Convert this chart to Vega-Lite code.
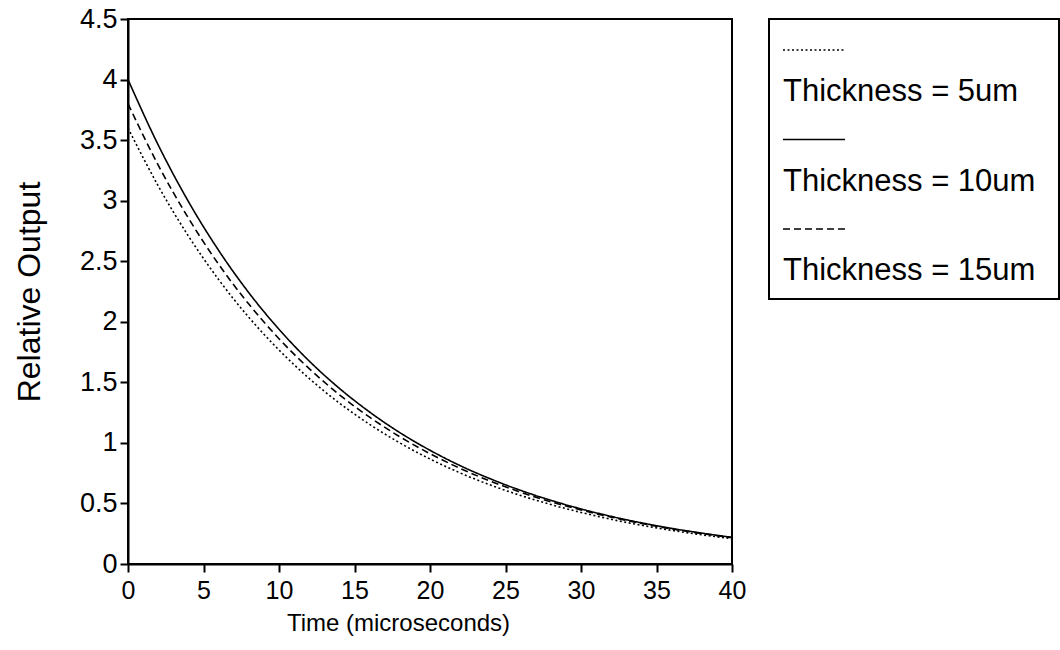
{
  "$schema": "https://vega.github.io/schema/vega-lite/v6.json",
  "padding": {"left": 12, "top": 4, "right": 0, "bottom": 0},
  "background": "white",
  "bounds": "flush",
  "spacing": 37,
  "config": {
    "font": "Liberation Sans",
    "view": {"stroke": "black", "strokeWidth": 2},
    "axis": {
      "grid": false,
      "domainColor": "black",
      "domainWidth": 2,
      "tickColor": "black",
      "tickWidth": 2,
      "tickSize": 8,
      "labelColor": "black",
      "titleColor": "black",
      "labelFontWeight": "normal",
      "titleFontWeight": "normal"
    }
  },
  "datasets": {
    "curves": [
      {"thickness": "5um", "time": 0, "output": 3.600},
      {"thickness": "5um", "time": 2, "output": 3.122},
      {"thickness": "5um", "time": 4, "output": 2.708},
      {"thickness": "5um", "time": 6, "output": 2.349},
      {"thickness": "5um", "time": 8, "output": 2.037},
      {"thickness": "5um", "time": 10, "output": 1.767},
      {"thickness": "5um", "time": 12, "output": 1.532},
      {"thickness": "5um", "time": 14, "output": 1.329},
      {"thickness": "5um", "time": 16, "output": 1.153},
      {"thickness": "5um", "time": 18, "output": 1.000},
      {"thickness": "5um", "time": 20, "output": 0.867},
      {"thickness": "5um", "time": 22, "output": 0.752},
      {"thickness": "5um", "time": 24, "output": 0.652},
      {"thickness": "5um", "time": 26, "output": 0.566},
      {"thickness": "5um", "time": 28, "output": 0.491},
      {"thickness": "5um", "time": 30, "output": 0.426},
      {"thickness": "5um", "time": 32, "output": 0.369},
      {"thickness": "5um", "time": 34, "output": 0.320},
      {"thickness": "5um", "time": 36, "output": 0.278},
      {"thickness": "5um", "time": 38, "output": 0.241},
      {"thickness": "5um", "time": 40, "output": 0.209},
      {"thickness": "10um", "time": 0, "output": 4.000},
      {"thickness": "10um", "time": 2, "output": 3.460},
      {"thickness": "10um", "time": 4, "output": 2.993},
      {"thickness": "10um", "time": 6, "output": 2.590},
      {"thickness": "10um", "time": 8, "output": 2.240},
      {"thickness": "10um", "time": 10, "output": 1.938},
      {"thickness": "10um", "time": 12, "output": 1.676},
      {"thickness": "10um", "time": 14, "output": 1.450},
      {"thickness": "10um", "time": 16, "output": 1.255},
      {"thickness": "10um", "time": 18, "output": 1.085},
      {"thickness": "10um", "time": 20, "output": 0.939},
      {"thickness": "10um", "time": 22, "output": 0.812},
      {"thickness": "10um", "time": 24, "output": 0.703},
      {"thickness": "10um", "time": 26, "output": 0.608},
      {"thickness": "10um", "time": 28, "output": 0.526},
      {"thickness": "10um", "time": 30, "output": 0.455},
      {"thickness": "10um", "time": 32, "output": 0.393},
      {"thickness": "10um", "time": 34, "output": 0.340},
      {"thickness": "10um", "time": 36, "output": 0.294},
      {"thickness": "10um", "time": 38, "output": 0.255},
      {"thickness": "10um", "time": 40, "output": 0.220},
      {"thickness": "15um", "time": 0, "output": 3.800},
      {"thickness": "15um", "time": 2, "output": 3.294},
      {"thickness": "15um", "time": 4, "output": 2.856},
      {"thickness": "15um", "time": 6, "output": 2.475},
      {"thickness": "15um", "time": 8, "output": 2.146},
      {"thickness": "15um", "time": 10, "output": 1.860},
      {"thickness": "15um", "time": 12, "output": 1.613},
      {"thickness": "15um", "time": 14, "output": 1.398},
      {"thickness": "15um", "time": 16, "output": 1.212},
      {"thickness": "15um", "time": 18, "output": 1.051},
      {"thickness": "15um", "time": 20, "output": 0.911},
      {"thickness": "15um", "time": 22, "output": 0.789},
      {"thickness": "15um", "time": 24, "output": 0.684},
      {"thickness": "15um", "time": 26, "output": 0.593},
      {"thickness": "15um", "time": 28, "output": 0.514},
      {"thickness": "15um", "time": 30, "output": 0.446},
      {"thickness": "15um", "time": 32, "output": 0.387},
      {"thickness": "15um", "time": 34, "output": 0.335},
      {"thickness": "15um", "time": 36, "output": 0.290},
      {"thickness": "15um", "time": 38, "output": 0.252},
      {"thickness": "15um", "time": 40, "output": 0.218}
    ],
    "legendRows": [
      {"thickness": "5um", "label": "Thickness = 5um"},
      {"thickness": "10um", "label": "Thickness = 10um"},
      {"thickness": "15um", "label": "Thickness = 15um"}
    ]
  },
  "hconcat": [
    {
      "width": 604,
      "height": 545,
      "data": {"name": "curves"},
      "mark": {"type": "line", "strokeWidth": 1.6, "color": "black", "interpolate": "monotone"},
      "encoding": {
        "x": {
          "field": "time",
          "type": "quantitative",
          "scale": {"domain": [0, 40], "nice": false},
          "axis": {
            "values": [0, 5, 10, 15, 20, 25, 30, 35, 40],
            "title": "Time (microseconds)",
            "labelFontSize": 25,
            "titleFontSize": 24,
            "labelPadding": 6,
            "titlePadding": 8,
            "titleX": 270,
            "labelFlush": false
          }
        },
        "y": {
          "field": "output",
          "type": "quantitative",
          "scale": {"domain": [0, 4.5], "nice": false},
          "axis": {
            "values": [0, 0.5, 1, 1.5, 2, 2.5, 3, 3.5, 4, 4.5],
            "format": "~g",
            "title": "Relative Output",
            "labelFontSize": 27,
            "titleFontSize": 32,
            "labelPadding": 3,
            "titlePadding": 33
          }
        },
        "strokeDash": {
          "field": "thickness",
          "type": "nominal",
          "scale": {"domain": ["5um", "10um", "15um"], "range": [[2, 2.5], [1, 0], [7, 4]]},
          "legend": null
        }
      }
    },
    {
      "width": 290,
      "height": 280,
      "data": {"name": "legendRows"},
      "layer": [
        {
          "mark": {"type": "rule", "strokeWidth": 1.6, "color": "black"},
          "encoding": {
            "x": {"datum": 14, "type": "quantitative", "scale": {"domain": [0, 290], "nice": false}, "axis": null},
            "x2": {"datum": 76},
            "y": {
              "field": "thickness",
              "type": "ordinal",
              "sort": ["5um", "10um", "15um"],
              "scale": {"type": "point", "range": [31, 210], "padding": 0},
              "axis": null
            },
            "strokeDash": {
              "field": "thickness",
              "type": "nominal",
              "scale": {"domain": ["5um", "10um", "15um"], "range": [[1.5, 1.5], [1, 0], [5, 3]]},
              "legend": null
            }
          }
        },
        {
          "mark": {"type": "text", "align": "left", "baseline": "middle", "dy": 42, "fontSize": 31, "color": "black"},
          "encoding": {
            "x": {"datum": 14, "type": "quantitative"},
            "y": {
              "field": "thickness",
              "type": "ordinal",
              "sort": ["5um", "10um", "15um"]
            },
            "text": {"field": "label"}
          }
        }
      ]
    }
  ]
}
